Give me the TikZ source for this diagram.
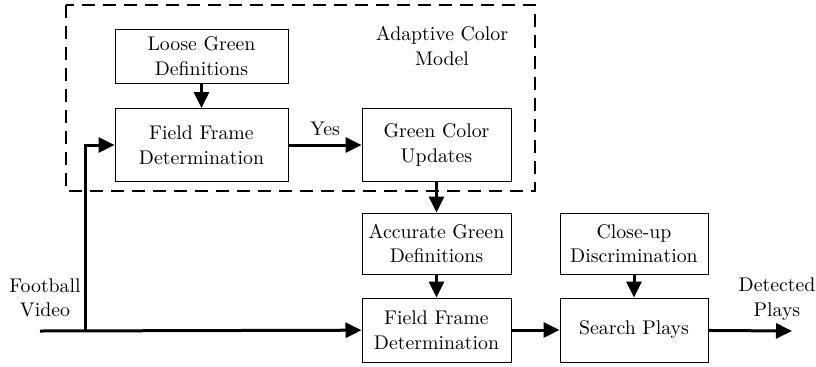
\documentclass[tikz,border=0pt]{standalone}
\usetikzlibrary{arrows.meta}

\begin{document}
\begin{tikzpicture}[x=0.5pt, y=-0.5pt, >={Triangle[length=8pt, width=7.5pt]},
  block/.style={draw, line width=0.5pt, align=center, inner sep=0pt,
    font=\rmfamily\fontsize{9.9}{12.3}\selectfont},
  flow/.style={->, line width=1.5pt},
  txt/.style={align=center, inner sep=0pt, font=\rmfamily\fontsize{9.9}{12.3}\selectfont}]
  \useasboundingbox (0,0) rectangle (816,366);
  % Adaptive color model (dashed region)
  \draw[line width=1pt, dash pattern=on 6.5pt off 4pt] (66,5) rectangle (535,191);
  \node[txt] (acm) at (442,46) {Adaptive Color\\Model};
  % Blocks
  \node[block, minimum width=86.5pt, minimum height=27pt] (loose) at (201.5,56) {Loose Green\\Definitions};
  \node[block, minimum width=86.5pt, minimum height=36.5pt] (ffa) at (201.5,145) {Field Frame\\Determination};
  \node[block, minimum width=74.5pt, minimum height=36.5pt] (gcu) at (436.5,145) {Green Color\\Updates};
  \node[block, minimum width=74.5pt, minimum height=30.5pt] (acc) at (436.5,243.5) {Accurate Green\\Definitions};
  \node[block, minimum width=74.5pt, minimum height=32pt] (ffb) at (436.5,330) {Field Frame\\Determination};
  \node[block, minimum width=74pt, minimum height=30.5pt] (close) at (634,243.5) {Close-up\\Discrimination};
  \node[block, minimum width=74pt, minimum height=32pt] (search) at (634,330) {Search Plays};
  % Input and output
  \node[txt] (video) at (45,298) {Football\\Video};
  \node[txt] (plays) at (777,299) {Detected\\Plays};
  \coordinate (in) at (40,331);
  \coordinate (split) at (85,331);
  \coordinate (out) at (792,331);
  % Connectors
  \draw[flow] (loose) -- (ffa);
  \draw[flow] (ffa) -- node[txt, above=4pt] (yes) {Yes} (gcu);
  \draw[flow] (gcu) -- (acc);
  \draw[flow] (acc) -- (ffb);
  \draw[flow] (close) -- (search);
  \draw[flow] (ffb) -- (search);
  \draw[flow] (search) -- (out);
  \draw[flow] (in) -- (ffb);
  \draw[flow] (split) |- (ffa);
\end{tikzpicture}
\end{document}
